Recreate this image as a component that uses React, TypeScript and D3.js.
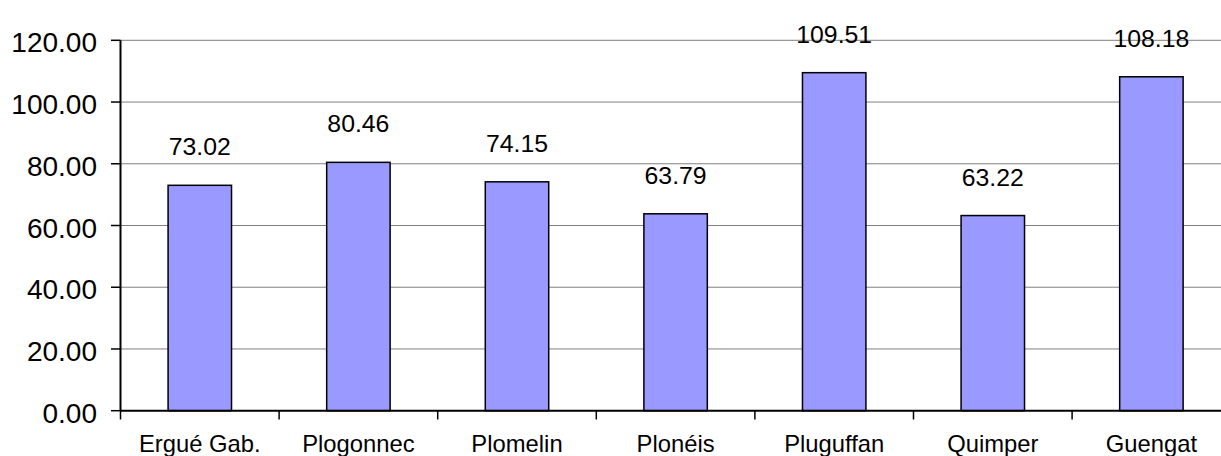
import React from "react";
import * as d3 from "d3";

const categories = ["Ergué Gab.", "Plogonnec", "Plomelin", "Plonéis", "Pluguffan", "Quimper", "Guengat"];
const values = [73.02, 80.46, 74.15, 63.79, 109.51, 63.22, 108.18];
const yTicks = [0, 20, 40, 60, 80, 100, 120];

const W = 1221;
const H = 456;
const left = 120.5;
const right = 1230.7;
const top = 40.3;
const bottom = 410.7;
const FONT = "'Liberation Sans', Arial, sans-serif";

export default function App() {
  const x = d3.scaleBand<string>().domain(categories).range([left, right]).paddingInner(0.6).paddingOuter(0.3);
  const y = d3.scaleLinear().domain([0, 120]).range([bottom, top]);
  const step = x.step();
  const outerStart = left;

  return (
    <svg width={W} height={H} style={{ position: "absolute", left: 0, top: 0, display: "block", background: "#fff" }}>
      {yTicks.map((t) => (
        <g key={t}>
          {t > 0 && <line x1={left} x2={W} y1={y(t)} y2={y(t)} stroke="#808080" strokeWidth={1} />}
          <line x1={111} x2={left} y1={y(t)} y2={y(t)} stroke="#000" strokeWidth={1.5} />
          <text x={97} y={y(t) + 12} textAnchor="end" fontFamily={FONT} fontSize={28} fill="#000">
            {t.toFixed(2)}
          </text>
        </g>
      ))}
      {categories.map((c, i) => {
        const v = values[i];
        const bx = x(c)!;
        const bw = x.bandwidth();
        const yt = y(v);
        const cx = outerStart + step * (i + 0.5);
        return (
          <g key={c}>
            <rect x={bx} y={yt} width={bw} height={bottom - yt} fill="#9999FF" stroke="#000" strokeWidth={1.5} />
            <text x={cx} y={Math.max(36, yt - 30)} textAnchor="middle" fontFamily={FONT} fontSize={24.8} fill="#000">
              {v.toFixed(2)}
            </text>
            <text x={cx} y={452} textAnchor="middle" fontFamily={FONT} fontSize={23.8} fill="#000">
              {c}
            </text>
          </g>
        );
      })}
      {d3.range(categories.length + 1).map((i) => (
        <line key={i} x1={outerStart + step * i} x2={outerStart + step * i} y1={bottom} y2={419.5} stroke="#000" strokeWidth={1.5} />
      ))}
      <line x1={left} x2={left} y1={top} y2={bottom} stroke="#000" strokeWidth={2} />
      <line x1={left} x2={W} y1={bottom} y2={bottom} stroke="#000" strokeWidth={2} />
    </svg>
  );
}
